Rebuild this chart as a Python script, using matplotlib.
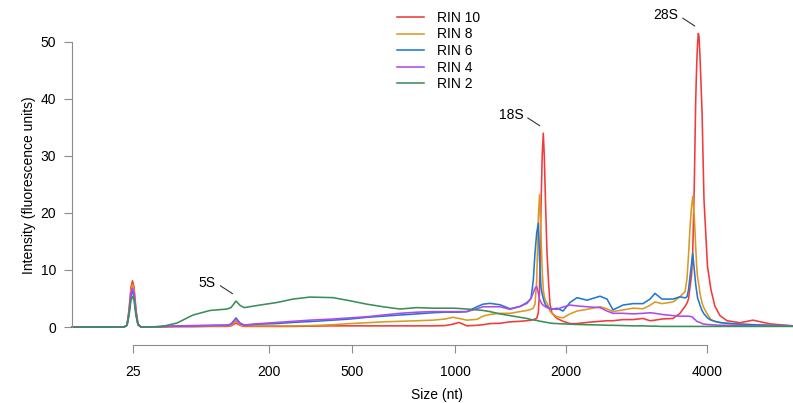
import numpy as np
import matplotlib
matplotlib.use('Agg')
import matplotlib.pyplot as plt

plt.rcParams['font.family'] = ['Liberation Sans', 'DejaVu Sans']

# migration time (s) of each sampled point
time_s = [18.0, 21.8, 23.2, 23.5, 23.7, 23.9, 24.05, 24.2, 24.4, 24.6,
          24.9, 26.3, 27.3, 28.5, 30.1, 31.8, 33.5, 33.9, 34.4, 34.8,
          35.2, 36.8, 38.5, 40.1, 41.8, 44.1, 45.8, 47.5, 49.1, 50.8,
          52.5, 54.1, 55.3, 56.1, 56.7, 57.5, 58.5, 59.1, 59.8, 60.8,
          61.8, 62.8, 63.5, 63.9, 64.13, 64.3, 64.47, 64.63, 64.75, 64.9,
          65.02, 65.13, 65.23, 65.35, 65.5, 65.65, 65.8, 66.0, 66.5, 67.1,
          67.8, 68.5, 69.5, 70.8, 71.5, 72.1, 73.1, 74.1, 75.1, 75.8,
          76.3, 77.0, 78.1, 78.8, 79.3, 79.5, 79.65, 79.8, 79.95, 80.07,
          80.23, 80.37, 80.47, 80.55, 80.63, 80.7, 80.8, 81.0, 81.2, 81.55,
          81.9, 82.3, 82.8, 83.5, 84.8, 86.1, 87.8, 90.1]

rin10 = [0, 0, 0, 0.3, 3.0, 7.0, 8.1, 7.0, 3.0, 0.5,
         0, 0, 0.02, 0.05, 0.05, 0.1, 0.1, 0.2, 0.7, 0.3,
         0.1, 0.1, 0.1, 0.1, 0.15, 0.2, 0.2, 0.2, 0.2, 0.2,
         0.2, 0.2, 0.25, 0.5, 0.8, 0.2, 0.3, 0.4, 0.6, 0.65,
         0.9, 1.0, 1.1, 1.2, 1.3, 1.4, 1.5, 2.5, 6, 21,
         30, 34, 30, 22, 13, 8, 4, 2.4, 1.5, 1.0,
         0.6, 0.6, 0.8, 1.0, 1.1, 1.1, 1.3, 1.3, 1.5, 1.1,
         1.2, 1.4, 1.5, 2.4, 3.6, 4.2, 4.9, 7, 9, 13,
         25, 39.8, 46, 49.5, 51.5, 51, 47.5, 38, 22.3, 10.6,
         6.5, 3.6, 2.0, 1.1, 0.75, 1.2, 0.55, 0.2]

rin8 = [0, 0, 0, 0.3, 2.8, 6.5, 7.5, 6.5, 2.8, 0.5,
        0, 0, 0.05, 0.1, 0.15, 0.15, 0.2, 0.3, 1.0, 0.4,
        0.2, 0.2, 0.2, 0.2, 0.25, 0.4, 0.6, 0.75, 0.9, 1.0,
        1.1, 1.2, 1.4, 1.7, 1.5, 1.2, 1.35, 1.9, 2.2, 2.4,
        2.4, 2.7, 2.9, 3.1, 3.3, 4.0, 8.2, 19, 23.2, 16,
        10, 6.5, 5.4, 4.6, 4.2, 3.5, 2.8, 2.4, 1.8, 1.6,
        2.3, 2.8, 3.1, 3.55, 3.2, 2.7, 3.0, 3.3, 3.2, 3.8,
        4.4, 4.1, 4.4, 5.3, 6.2, 8.5, 12.5, 17.5, 21, 22.9,
        19.4, 14, 10.6, 8.8, 8, 7.2, 5.9, 4.2, 3.3, 2.2,
        1.3, 0.95, 0.75, 0.65, 0.5, 0.4, 0.3, 0.2]

rin6 = [0, 0, 0, 0.3, 2.3, 5.5, 6.2, 5.5, 2.3, 0.4,
        0, 0, 0.1, 0.15, 0.2, 0.25, 0.3, 0.5, 1.6, 0.7,
        0.35, 0.5, 0.6, 0.8, 0.95, 1.2, 1.4, 1.7, 1.9, 2.1,
        2.3, 2.5, 2.6, 2.6, 2.6, 2.7, 3.55, 4.0, 4.15, 3.9,
        3.2, 3.6, 4.3, 5.0, 8.2, 13, 16.5, 18.2, 12, 7,
        5.8, 5.0, 4.4, 3.9, 3.6, 3.4, 3.2, 3.1, 3.3, 2.8,
        4.3, 5.15, 4.7, 5.4, 4.9, 3.0, 3.85, 4.1, 4.1, 4.9,
        5.9, 4.9, 4.9, 5.3, 5.1, 5.3, 6.5, 8.8, 11, 12.9,
        10, 7.5, 6.2, 5.2, 4.7, 4.4, 3.8, 2.9, 2.3, 1.6,
        1.2, 1.0, 0.8, 0.65, 0.5, 0.4, 0.3, 0.2]

rin4 = [0, 0, 0, 0.3, 2.5, 6.0, 6.8, 6.0, 2.5, 0.4,
        0, 0, 0.1, 0.2, 0.25, 0.3, 0.35, 0.5, 1.4, 0.6,
        0.35, 0.6, 0.8, 1.0, 1.2, 1.4, 1.6, 1.8, 2.1, 2.4,
        2.6, 2.7, 2.7, 2.7, 2.7, 2.7, 3.2, 3.55, 3.55, 3.55,
        3.1, 3.6, 4.15, 5.0, 6.0, 6.8, 7.1, 6.0, 4.9, 4.3,
        4.0, 3.8, 3.7, 3.55, 3.4, 3.3, 3.25, 3.2, 3.1, 3.5,
        3.85, 3.7, 3.55, 3.4, 2.8, 2.4, 2.4, 2.3, 2.4, 2.5,
        2.4, 2.2, 2.0, 1.9, 1.9, 1.9, 1.9, 1.85, 1.8, 1.7,
        1.4, 1.2, 1.0, 0.95, 0.9, 0.85, 0.8, 0.6, 0.5, 0.45,
        0.4, 0.35, 0.3, 0.3, 0.25, 0.2, 0.2, 0.15]

rin2 = [0, 0, 0, 0.3, 2.0, 4.7, 5.4, 4.7, 2.0, 0.4,
        0, 0.05, 0.2, 0.7, 2.1, 2.9, 3.15, 3.4, 4.55, 3.8,
        3.4, 3.85, 4.3, 4.9, 5.25, 5.15, 4.6, 4.0, 3.55, 3.15,
        3.4, 3.3, 3.3, 3.3, 3.25, 3.15, 3.0, 2.9, 2.7, 2.3,
        2.0, 1.7, 1.5, 1.3, 1.25, 1.2, 1.15, 1.1, 1.0, 1.0,
        0.95, 0.9, 0.88, 0.85, 0.8, 0.75, 0.7, 0.65, 0.6, 0.55,
        0.5, 0.45, 0.4, 0.35, 0.3, 0.3, 0.25, 0.2, 0.2, 0.15,
        0.15, 0.1, 0.1, 0.1, 0.1, 0.1, 0.1, 0.1, 0.1, 0.1,
        0.1, 0.1, 0.1, 0.1, 0.1, 0.1, 0.1, 0.1, 0.1, 0.1,
        0.1, 0.1, 0.1, 0.1, 0.1, 0.1, 0.1, 0.1]

labels = ['RIN 10', 'RIN 8', 'RIN 6', 'RIN 4', 'RIN 2']
colors = ['#f23a3a', '#d99a1f', '#2277d6', '#b048ee', '#3a8f58']

# ladder sizes and where they elute
size_nt = [25, 200, 500, 1000, 2000, 4000]
size_time = [24.1, 37.7, 46.0, 56.3, 67.4, 81.5]

fig = plt.figure(figsize=(7.93, 4.03), dpi=100)
ax = fig.add_axes([72/793, 73/403, 721/793, 300/403])

t = np.array(time_s)
series = [rin10, rin8, rin6, rin4, rin2]
for y, lab, c in zip(series, labels, colors):
    ax.plot(t, y, color=c, lw=1.15, label=lab, clip_on=False)

ax.set_xlim(18.0, 90.1)
ax.set_ylim(-0.526, 52.1)

grey = '#8c8c8c'
for s in ['top', 'right']:
    ax.spines[s].set_visible(False)
ax.spines['left'].set_bounds(0, 50)
ax.spines['bottom'].set_bounds(size_time[0], size_time[-1])
ax.spines['bottom'].set_position(('outward', 10.8))
for s in ['left', 'bottom']:
    ax.spines[s].set_color(grey)
    ax.spines[s].set_linewidth(0.8)

ax.set_yticks([0, 10, 20, 30, 40, 50])
ax.set_xticks(size_time)
ax.set_xticklabels([str(s) for s in size_nt])
ax.tick_params(axis='both', length=5.8, width=0.8, color=grey,
               labelcolor='black', labelsize=10)
ax.tick_params(axis='x', pad=8.4)
ax.tick_params(axis='y', pad=5.5)

ax.set_xlabel('Size (nt)', fontsize=10)
ax.set_ylabel('Intensity (fluorescence units)', fontsize=10)
ax.xaxis.set_label_coords(0.506, -0.193)
ax.yaxis.set_label_coords(-0.05, 0.483)

# rRNA peak labels
peaks = [('5S', rin2, 33, 36), ('18S', rin10, 60, 70), ('28S', rin10, 75, 86)]
for name, y, lo, hi in peaks:
    y = np.array(y)
    m = (t > lo) & (t < hi)
    i = np.argmax(np.where(m, y, -1))
    ax.annotate(name, xy=(t[i] - 0.35, y[i] + 1.3), xytext=(-12, 7.8),
                textcoords='offset points', ha='right', va='center',
                fontsize=10, annotation_clip=False,
                arrowprops=dict(arrowstyle='-', color='#333333', lw=0.8,
                                shrinkA=1.5, shrinkB=0, relpos=(1, 0.5)))

ax.legend(loc='upper left', bbox_to_anchor=(397/793, 1 - 11/403),
          bbox_transform=fig.transFigure, frameon=False, fontsize=10,
          handlelength=1.94, handletextpad=0.94, labelspacing=0.18,
          borderpad=0, borderaxespad=0)

fig.savefig('out.png', dpi=100)
